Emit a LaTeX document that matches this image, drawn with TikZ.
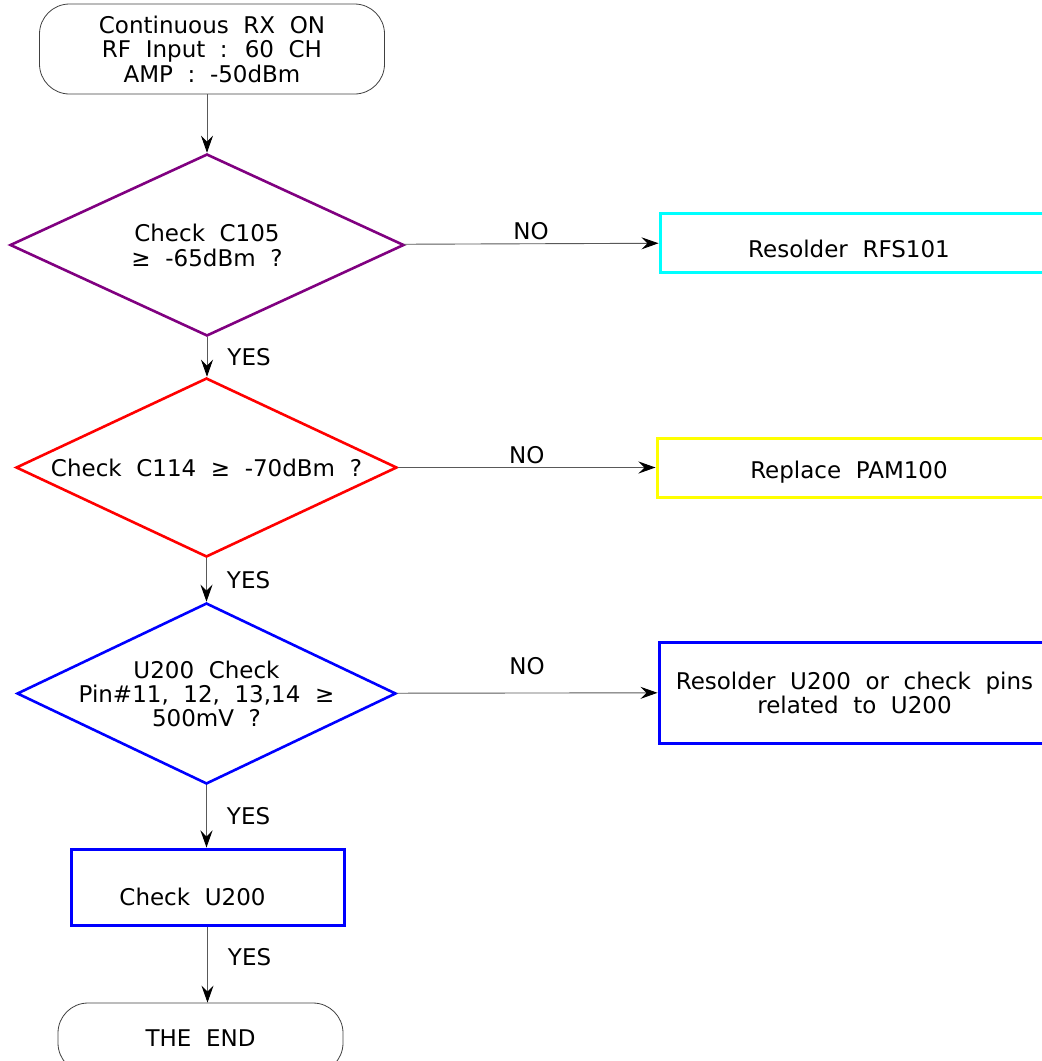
\documentclass[tikz,border=0pt]{standalone}
\usepackage{fontspec}
\setmainfont{DejaVu Sans}[WordSpace=2]
\usetikzlibrary{arrows.meta, positioning, shapes.geometric}
\definecolor{rxpurple}{RGB}{128,0,128}
\definecolor{rxcyan}{RGB}{0,255,255}
\definecolor{rxyellow}{RGB}{255,255,0}

\begin{document}
\begin{tikzpicture}[x=1pt, y=-1pt, >={Stealth[length=17pt,width=12pt,inset=6pt,color=black]},
    font=\fontsize{23pt}{24pt}\selectfont,
    term/.style={draw=black!75, line width=0.8pt, rounded corners=30pt, align=center, inner sep=0},
    test/.style={diamond, draw, line width=2.6pt, align=center, inner sep=0},
    action/.style={rectangle, draw, line width=3pt, align=center, inner sep=0},
    flow/.style={draw=black!65, line width=0.9pt, ->},
    yeslbl/.style={anchor=west, xshift=20pt, inner sep=0}]
    \useasboundingbox (0,0) rectangle (1042,1061);
    \clip (0,0) rectangle (1042,1061);
    \node[term, minimum width=345, minimum height=90] (start) at (212,49)
      {\raisebox{-4pt}[\height][\depth]{\begin{tabular}{@{}c@{}}Continuous RX ON\\ RF Input : 60 CH\\ AMP : -50dBm\end{tabular}}};
    \node[test, draw=rxpurple, aspect=2.165, minimum width=394, minimum height=182] (d1) at (207,245)
      {\raisebox{-4pt}[\height][\depth]{\begin{tabular}{@{}c@{}}Check C105\\ ≥ -65dBm ?\end{tabular}}};
    \node[test, draw=red, aspect=2.13, minimum width=381, minimum height=179] (d2) at (206.5,467.5)
      {Check C114 ≥ -70dBm ?};
    \node[test, draw=blue, aspect=2.09, inner sep=-9pt, minimum width=379, minimum height=181] (d3) at (206.5,693.5)
      {U200 Check\\ Pin\#11, 12, 13,14 ≥\\ 500mV ?};
    \node[action, draw=rxcyan, minimum width=390, minimum height=59] (r1) at (855,242.5)
      {\raisebox{-6pt}[\height][\depth]{Resolder RFS101\hspace*{12pt}}};
    \node[action, draw=rxyellow, minimum width=393, minimum height=59] (r2) at (853.5,467.5)
      {\raisebox{-5pt}[\height][\depth]{Replace PAM100\hspace*{9pt}}};
    \node[action, draw=blue, minimum width=391, minimum height=101] (r3) at (854.5,692.5)
      {Resolder U200 or check pins\\ related to U200};
    \node[action, draw=blue, minimum width=273, minimum height=76] (chk) at (207.5,887)
      {\raisebox{-10pt}[\height][\depth]{Check U200\hspace*{30pt}}};
    \node[term, minimum width=285, minimum height=70] (stop) at (200.5,1038) {THE END};
    \draw[flow] (start.south -| d1.north) -- (d1.north);
    \foreach \a/\b/\p in {d1/d2/.5, d2/d3/.5, d3/chk/.5, chk/stop/.4}
      \draw[flow] (\a.south) -- node[yeslbl, pos=\p] {YES} (\a.south |- \b.north);
    \draw[flow] (d1) -- node[above] {NO} (r1);
    \draw[flow] (d2) -- node[above] {NO} (r2);
    \draw[flow] (d3) -- node[above, yshift=14pt] {NO} (r3);
  \end{tikzpicture}
\end{document}
